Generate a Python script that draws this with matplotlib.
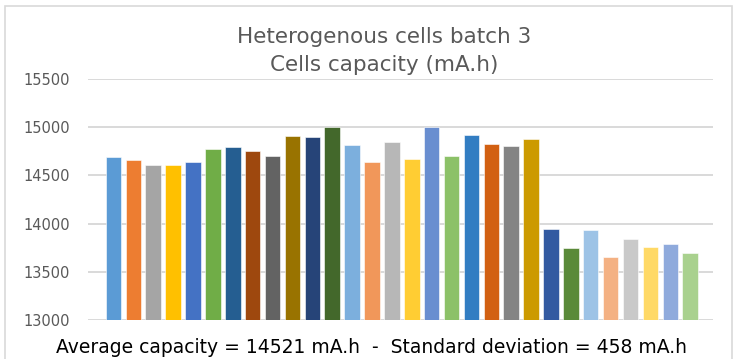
import matplotlib.pyplot as plt
from matplotlib.patches import Rectangle

plt.rcParams['font.family'] = ['DejaVu Sans']

# ---- data ----
cells = list(range(1, 31))
capacity = [14690, 14660, 14605, 14605, 14635, 14770, 14790, 14755, 14705, 14907,
            14897, 14997, 14818, 14640, 14842, 14675, 15007, 14705, 14924, 14828,
            14810, 14880, 13941, 13748, 13931, 13651, 13845, 13755, 13789, 13693]
colors = ['#5B9BD5', '#ED7D31', '#A5A5A5', '#FFC000', '#4472C4', '#70AD47',
          '#255E91', '#9E480E', '#636363', '#997300', '#264478', '#43682B',
          '#7CAFDD', '#F1975A', '#B7B7B7', '#FFCD33', '#698ED0', '#8CC168',
          '#327DC2', '#D26012', '#848484', '#CC9A00', '#335AA1', '#5A8A39',
          '#9DC3E6', '#F4B183', '#C9C9C9', '#FFD966', '#8FAADC', '#A9D18E']
yticks = [13000, 13500, 14000, 14500, 15000, 15500]
avg_cap = 14521
std_cap = 458

# ---- figure ----
fig = plt.figure(figsize=(7.36, 3.59), dpi=100)
ax = fig.add_axes([0.1196, 0.1086, 0.8492, 0.6714])

x = range(len(cells))
ax.bar(x, capacity, width=0.78, color=colors, edgecolor='white', linewidth=0.4,
       zorder=3)

ax.set_ylim(13000, 15500)
ax.set_xlim(-1.28, 30.15)
ax.set_yticks(yticks)
ax.set_yticklabels([str(t) for t in yticks], color='#595959', fontsize=10.5)
ax.set_xticks([])
ax.tick_params(axis='y', length=0, pad=13)
ax.grid(axis='y', color='#D9D9D9', linewidth=1.4, zorder=0)
for s in ax.spines.values():
    s.set_visible(False)

# titles
fig.text(0.522, 0.879, 'Heterogenous cells batch 3', ha='center', va='baseline',
         fontsize=15.5, color='#595959')
fig.text(0.522, 0.801, 'Cells capacity (mA.h)', ha='center', va='baseline',
         fontsize=15.5, color='#595959')
fig.text(0.505, 0.017,
         f'Average capacity = {avg_cap} mA.h  -  Standard deviation = {std_cap} mA.h',
         ha='center', va='baseline', fontsize=13.5, color='black')

# chart frame
fig.patches.append(Rectangle((5 / 736, -0.1), 727 / 736, 1.1 - 6 / 359,
                             transform=fig.transFigure, fill=False,
                             edgecolor='#D9D9D9', linewidth=1.2))

fig.savefig('out.png', dpi=100)
